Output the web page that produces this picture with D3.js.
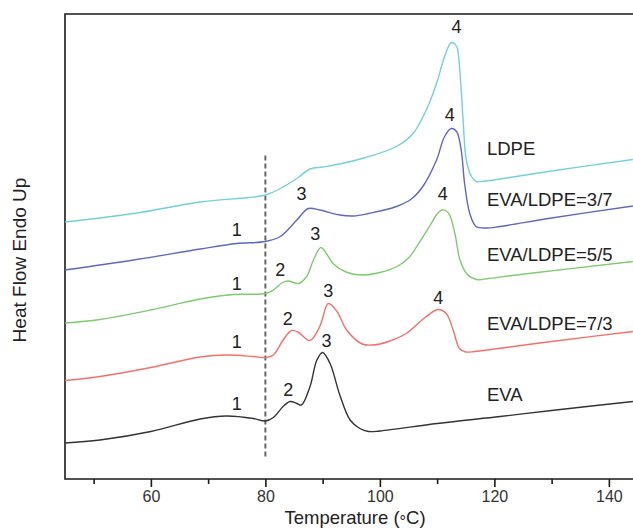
<!DOCTYPE html>
<html>
<head>
<meta charset="utf-8">
<script src="https://cdn.jsdelivr.net/npm/d3@7"></script>
<style>
  html, body { margin: 0; padding: 0; background: #fff; }
  svg { display: block; font-family: "Liberation Sans", Arial, sans-serif; }
</style>
</head>
<body>
<svg id="chart" width="633" height="530"></svg>
<script>
// DSC heating curves: [temperature °C, heat flow (a.u., endo up, offset)]
const evaCurve = [
  [45.0, 0.72], [51.1, 0.78], [60.0, 0.95], [68.6, 1.20], [73.2, 1.26],
  [77.9, 1.21], [80.0, 1.16], [81.4, 1.23], [83.1, 1.45], [84.3, 1.55], [85.5, 1.51], [86.3, 1.48],
  [87.8, 1.85], [89.0, 2.38], [90.0, 2.53], [91.3, 2.31], [93.0, 1.68], [94.8, 1.18],
  [96.5, 1.01], [98.0, 0.95], [100.0, 0.96], [110.0, 1.11], [121.0, 1.25], [130.0, 1.37], [144.2, 1.55]
];
const blend73Curve = [
  [45.0, 1.97], [51.1, 2.05], [60.0, 2.23], [68.6, 2.44], [73.2, 2.48],
  [77.9, 2.45], [80.0, 2.43], [81.4, 2.48], [83.1, 2.78], [84.6, 2.97], [85.8, 2.93],
  [87.8, 2.77], [89.5, 3.05], [91.0, 3.51], [92.5, 3.35], [94.2, 2.98], [96.9, 2.70],
  [98.8, 2.68], [101.5, 2.75], [104.6, 2.91], [108.1, 3.25], [110.2, 3.39], [111.6, 3.31], [112.8, 2.98],
  [113.9, 2.61], [115.0, 2.54], [116.5, 2.55], [120.0, 2.60], [130.0, 2.75], [144.2, 2.95]
];
const blend55Curve = [
  [45.0, 3.12], [51.1, 3.19], [60.0, 3.38], [68.6, 3.60], [74.4, 3.69],
  [80.0, 3.71], [81.4, 3.78], [83.0, 3.93], [84.0, 3.96], [85.8, 3.91], [87.2, 4.05],
  [88.4, 4.38], [89.7, 4.63], [91.0, 4.45], [91.8, 4.31], [94.1, 4.14], [97.1, 4.08], [100.0, 4.13],
  [103.0, 4.25], [105.0, 4.42], [107.0, 4.75], [108.8, 5.08], [110.0, 5.30], [110.8, 5.38],
  [111.6, 5.36], [112.2, 5.28], [113.1, 4.91], [114.0, 4.38], [115.2, 4.10], [116.9, 3.99],
  [119.0, 4.01], [124.5, 4.09], [144.2, 4.35]
];
const blend37Curve = [
  [45.0, 4.18], [57.0, 4.38], [68.6, 4.60], [75.0, 4.71], [80.0, 4.75],
  [82.6, 4.85], [85.5, 5.18], [87.5, 5.41], [89.5, 5.38], [93.0, 5.28], [95.4, 5.26],
  [98.0, 5.31], [102.9, 5.45], [105.5, 5.60], [107.5, 5.85], [109.9, 6.38], [111.3, 6.85], [112.5, 7.01],
  [113.4, 6.95], [114.2, 6.58], [114.8, 5.91], [115.7, 5.31], [116.8, 5.05], [118.6, 5.02],
  [121.0, 5.05], [130.0, 5.22], [144.2, 5.46]
];
const ldpeCurve = [
  [45.0, 5.14], [57.0, 5.31], [68.6, 5.54], [80.0, 5.68],
  [82.6, 5.81], [85.5, 6.01], [87.8, 6.20], [90.0, 6.24], [93.0, 6.30], [97.5, 6.43],
  [102.9, 6.65], [105.8, 6.91], [108.1, 7.38], [109.9, 7.91], [111.3, 8.45], [112.5, 8.73],
  [113.4, 8.65], [113.9, 8.25], [114.5, 7.25], [115.1, 6.38], [116.0, 6.05], [116.8, 5.95],
  [118.5, 5.96], [121.0, 6.00], [130.0, 6.16], [144.2, 6.39]
];

const seriesNames = ["LDPE", "EVA/LDPE=3/7", "EVA/LDPE=5/5", "EVA/LDPE=7/3", "EVA"];
const seriesColors = ["#72d0dc", "#5d67c6", "#7ccb6c", "#f2706a", "#333333"];
const seriesData = [ldpeCurve, blend37Curve, blend55Curve, blend73Curve, evaCurve];
// where each curve's name sits: [temperature, heat flow]
const seriesLabelAt = [[118.7, 6.61], [118.7, 5.59], [118.7, 4.48], [118.7, 3.11], [118.7, 1.68]];

// melting peak numbers: [text, temperature, heat flow]
const peakLabels = [
  ["4", 113.4, 9.04],
  ["1", 75.0, 4.98], ["3", 86.3, 5.71], ["4", 112.2, 7.29],
  ["1", 75.0, 3.91], ["2", 82.6, 4.18], ["3", 88.7, 4.91], ["4", 111.0, 5.71],
  ["1", 75.0, 2.75], ["2", 83.9, 3.20], ["3", 91.0, 3.77], ["4", 110.2, 3.63],
  ["1", 75.0, 1.51], ["2", 84.0, 1.79], ["3", 90.7, 2.76]
];

// reference line at the onset temperature
const markerTemp = 80;
const markerRange = [0.45, 6.5];

const majorTicks = [60, 80, 100, 120, 140];
const minorTicks = [50, 70, 90, 110, 130];
const xTitleParts = ["Temperature (", "\u00b0", "C)"];
const yTitle = "Heat Flow Endo Up";

const svg = d3.select("#chart");
const plotLeft = 65, plotTop = 14, plotBottom = 479, plotRight = 637.5;

const x = d3.scaleLinear().domain([45, 145]).range([plotLeft, plotRight]);
const y = d3.scaleLinear().domain([0, 9.3]).range([plotBottom, plotTop]);

// frame: left, top and bottom lines
svg.append("path")
  .attr("d", `M${plotRight},${plotTop}H${plotLeft}V${plotBottom}H${plotRight}`)
  .attr("fill", "none").attr("stroke", "#1a1a1a").attr("stroke-width", 1.6);

// bottom axis
svg.append("g").attr("transform", `translate(0,${plotBottom})`)
  .call(d3.axisBottom(x).tickValues(majorTicks).tickSize(8).tickPadding(4).tickFormat(d3.format("d")))
  .call(g => g.select(".domain").remove())
  .call(g => g.selectAll(".tick line").attr("stroke", "#1a1a1a").attr("stroke-width", 1.6))
  .call(g => g.selectAll(".tick text").attr("font-size", 16).attr("fill", "#333")
      .attr("font-family", "Liberation Sans, Arial, sans-serif"));
svg.append("g").attr("transform", `translate(0,${plotBottom})`)
  .call(d3.axisBottom(x).tickValues(minorTicks).tickSize(5).tickFormat(""))
  .call(g => g.select(".domain").remove())
  .call(g => g.selectAll(".tick line").attr("stroke", "#1a1a1a").attr("stroke-width", 1.6));

// axis titles (degree ring sits a little lower, at mid height)
const xt = svg.append("text")
  .attr("x", 355).attr("y", 524)
  .attr("text-anchor", "middle").attr("font-size", 18.5).attr("fill", "#222");
xt.append("tspan").text(xTitleParts[0]);
xt.append("tspan").attr("dy", 2.5).attr("font-size", 16).text(xTitleParts[1]);
xt.append("tspan").attr("dy", -2.5).text(xTitleParts[2]);

svg.append("text")
  .attr("transform", "translate(26,260) rotate(-90)")
  .attr("text-anchor", "middle").attr("font-size", 19).attr("fill", "#222")
  .text(yTitle);

// dashed marker
svg.append("line")
  .attr("x1", x(markerTemp)).attr("x2", x(markerTemp))
  .attr("y1", y(markerRange[0])).attr("y2", y(markerRange[1]))
  .attr("stroke", "#666").attr("stroke-width", 2).attr("stroke-dasharray", "5,3");

// curves
const line = d3.line().x(d => x(d[0])).y(d => y(d[1])).curve(d3.curveCatmullRom.alpha(0.5));
svg.append("g").selectAll("path")
  .data(seriesData)
  .join("path")
  .attr("d", line)
  .attr("fill", "none")
  .attr("stroke", (d, i) => seriesColors[i])
  .attr("stroke-width", 1.4);

// curve names
svg.append("g").selectAll("text")
  .data(seriesNames)
  .join("text")
  .attr("x", (d, i) => x(seriesLabelAt[i][0]))
  .attr("y", (d, i) => y(seriesLabelAt[i][1]))
  .attr("dy", "0.35em")
  .attr("font-size", 18.5).attr("fill", "#222")
  .text(d => d);

// peak numbers
svg.append("g").selectAll("text")
  .data(peakLabels)
  .join("text")
  .attr("x", d => x(d[1]))
  .attr("y", d => y(d[2]))
  .attr("dy", "0.35em")
  .attr("text-anchor", "middle")
  .attr("font-size", 18).attr("fill", "#222")
  .text(d => d[0]);
</script>
</body>
</html>
